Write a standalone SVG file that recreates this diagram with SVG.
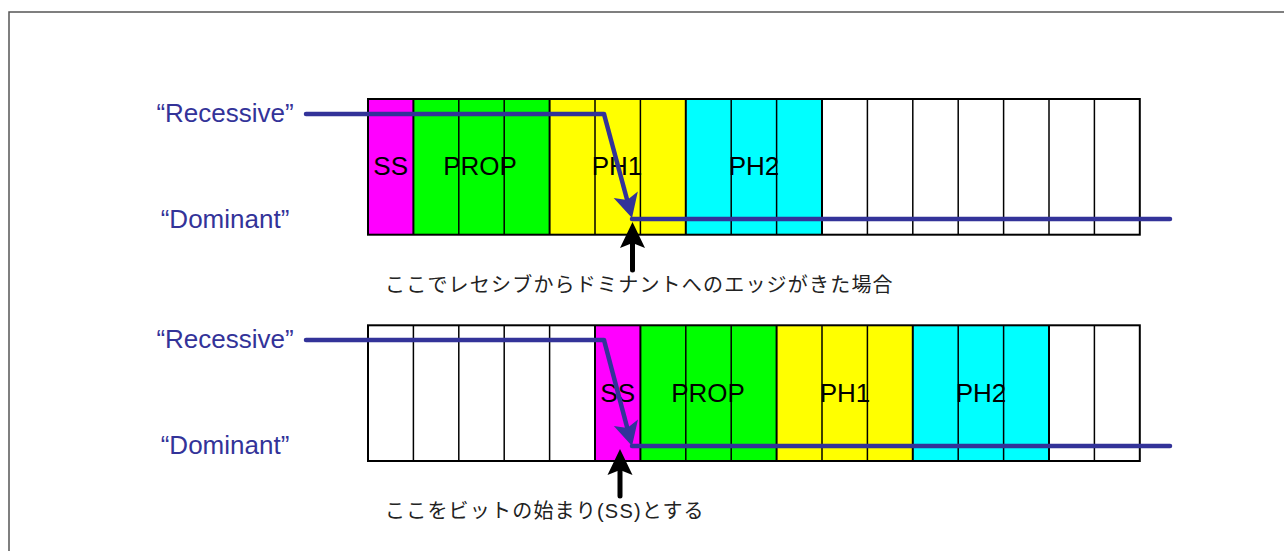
<svg xmlns="http://www.w3.org/2000/svg" width="1284" height="551" viewBox="0 0 1284 551">
<style>
.frame{fill:#fff;stroke:#555;stroke-width:1.5}
.lbl{font-family:"Liberation Sans",Arial,sans-serif;font-size:26px;fill:#333399;text-anchor:middle}
.cell{font-family:"Liberation Sans",Arial,sans-serif;font-size:26px;fill:#000;text-anchor:middle}
.jp{font-family:"Liberation Sans","Noto Sans CJK JP",sans-serif;font-size:20px;fill:#222;letter-spacing:1.2px}
.div{stroke:#000;stroke-width:1.5}
.grp{stroke:#000;stroke-width:2}
.box{fill:none;stroke:#000;stroke-width:2}
.sig{fill:none;stroke:#333399;stroke-width:4.5;stroke-linecap:round;stroke-linejoin:round}
.sigd{fill:none;stroke:#333399;stroke-width:4.5;stroke-linecap:butt}
.up{stroke:#000;stroke-width:5;stroke-linecap:round}
.ss{fill:#FF00FF}.prop{fill:#00FF00}.ph1{fill:#FFFF00}.ph2{fill:#00FFFF}
</style>
<defs>
<marker id="blueHead" markerUnits="userSpaceOnUse" viewBox="-25 -13 27 26" refX="-15" refY="0" markerWidth="27" markerHeight="26" orient="auto">
<path d="M0,0 L-24,-12.5 L-18.5,0 L-24,12.5 Z" fill="#333399"/>
</marker>
<marker id="blackHead" markerUnits="userSpaceOnUse" viewBox="-27 -13 29 26" refX="-12" refY="0" markerWidth="29" markerHeight="26" orient="auto">
<path d="M0,0 L-26,-12.5 L-21,0 L-26,12.5 Z" fill="#000"/>
</marker>
</defs>
<rect class="frame" x="9" y="12" width="1290" height="560"/>

<g id="label-recessive-1"><text class="lbl" x="225" y="122">“Recessive”</text></g>
<g id="label-dominant-1"><text class="lbl" x="225" y="228">“Dominant”</text></g>
<g id="label-recessive-2"><text class="lbl" x="225" y="348">“Recessive”</text></g>
<g id="label-dominant-2"><text class="lbl" x="225" y="454">“Dominant”</text></g>

<g id="row1">
<g id="row1-SS"><rect class="ss" x="368" y="99" width="45.4" height="135.7"/><text class="cell" x="390.7" y="175">SS</text></g>
<g id="row1-PROP"><rect class="prop" x="413.4" y="99" width="136.2" height="135.7"/></g>
<g id="row1-PH1"><rect class="ph1" x="549.6" y="99" width="136.2" height="135.7"/></g>
<g id="row1-PH2"><rect class="ph2" x="685.8" y="99" width="136.2" height="135.7"/></g>
<g id="row1-grid">
<line class="grp" x1="413.4" y1="99" x2="413.4" y2="234.7"/>
<line class="div" x1="458.8" y1="99" x2="458.8" y2="234.7"/>
<line class="div" x1="504.2" y1="99" x2="504.2" y2="234.7"/>
<line class="grp" x1="549.6" y1="99" x2="549.6" y2="234.7"/>
<line class="div" x1="595" y1="99" x2="595" y2="234.7"/>
<line class="div" x1="640.4" y1="99" x2="640.4" y2="234.7"/>
<line class="grp" x1="685.8" y1="99" x2="685.8" y2="234.7"/>
<line class="div" x1="731.2" y1="99" x2="731.2" y2="234.7"/>
<line class="div" x1="776.6" y1="99" x2="776.6" y2="234.7"/>
<line class="grp" x1="822" y1="99" x2="822" y2="234.7"/>
<line class="div" x1="867.4" y1="99" x2="867.4" y2="234.7"/>
<line class="div" x1="912.8" y1="99" x2="912.8" y2="234.7"/>
<line class="div" x1="958.2" y1="99" x2="958.2" y2="234.7"/>
<line class="div" x1="1003.6" y1="99" x2="1003.6" y2="234.7"/>
<line class="div" x1="1049" y1="99" x2="1049" y2="234.7"/>
<line class="div" x1="1094.4" y1="99" x2="1094.4" y2="234.7"/>
<rect class="box" x="368" y="99" width="771.8" height="135.7"/>
</g>
<text class="cell" x="480" y="175">PROP</text>
<text class="cell" x="617" y="175">PH1</text>
<text class="cell" x="754" y="175">PH2</text>
</g>

<g id="row2">
<g id="row2-SS"><rect class="ss" x="595" y="325.3" width="45.4" height="135.7"/><text class="cell" x="617.7" y="401.5">SS</text></g>
<g id="row2-PROP"><rect class="prop" x="640.4" y="325.3" width="136.2" height="135.7"/></g>
<g id="row2-PH1"><rect class="ph1" x="776.6" y="325.3" width="136.2" height="135.7"/></g>
<g id="row2-PH2"><rect class="ph2" x="912.8" y="325.3" width="136.2" height="135.7"/></g>
<g id="row2-grid">
<line class="div" x1="413.4" y1="325.3" x2="413.4" y2="461"/>
<line class="div" x1="458.8" y1="325.3" x2="458.8" y2="461"/>
<line class="div" x1="504.2" y1="325.3" x2="504.2" y2="461"/>
<line class="div" x1="549.6" y1="325.3" x2="549.6" y2="461"/>
<line class="grp" x1="595" y1="325.3" x2="595" y2="461"/>
<line class="grp" x1="640.4" y1="325.3" x2="640.4" y2="461"/>
<line class="div" x1="685.8" y1="325.3" x2="685.8" y2="461"/>
<line class="div" x1="731.2" y1="325.3" x2="731.2" y2="461"/>
<line class="grp" x1="776.6" y1="325.3" x2="776.6" y2="461"/>
<line class="div" x1="822" y1="325.3" x2="822" y2="461"/>
<line class="div" x1="867.4" y1="325.3" x2="867.4" y2="461"/>
<line class="grp" x1="912.8" y1="325.3" x2="912.8" y2="461"/>
<line class="div" x1="958.2" y1="325.3" x2="958.2" y2="461"/>
<line class="div" x1="1003.6" y1="325.3" x2="1003.6" y2="461"/>
<line class="grp" x1="1049" y1="325.3" x2="1049" y2="461"/>
<line class="div" x1="1094.4" y1="325.3" x2="1094.4" y2="461"/>
<rect class="box" x="368" y="325.3" width="771.8" height="135.7"/>
</g>
<text class="cell" x="708" y="401.5">PROP</text>
<text class="cell" x="845" y="401.5">PH1</text>
<text class="cell" x="981" y="401.5">PH2</text>
</g>

<g id="note-1"><text class="jp" x="385" y="292">ここでレセシブからドミナントへのエッジがきた場合</text></g>
<g id="note-2"><text class="jp" x="385" y="518">ここをビットの始まり(SS)とする</text></g>

<g id="connectors">
<path class="sig" d="M306,114 H604"/>
<path class="sigd" d="M604,114 L628.1,203.5" marker-end="url(#blueHead)"/>
<path class="sig" d="M632,219 H1170"/>
<path class="sig" d="M306,340 H604"/>
<path class="sigd" d="M604,340 L628.2,431.5" marker-end="url(#blueHead)"/>
<path class="sig" d="M632,446 H1170"/>
<line class="up" x1="632.5" y1="270" x2="632.5" y2="234" marker-end="url(#blackHead)"/>
<line class="up" x1="620" y1="496" x2="620" y2="461" marker-end="url(#blackHead)"/>
</g>
</svg>
